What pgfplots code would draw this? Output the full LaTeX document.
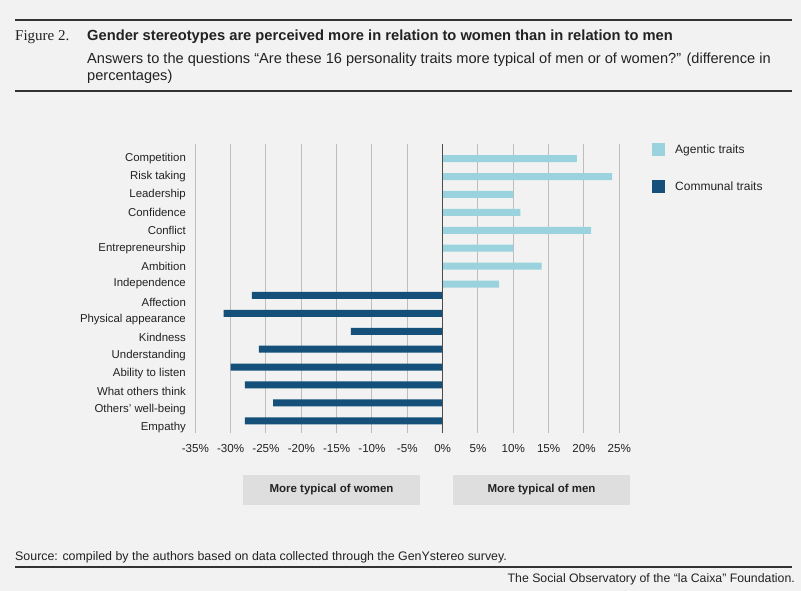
\documentclass[border=0pt]{standalone}
\usepackage{pgfplots}
\pgfplotsset{compat=1.18}
\usepackage{fontspec}
\setmainfont{Liberation Sans}
\newfontfamily\serifc{Liberation Serif}
\definecolor{bg}{HTML}{F2F2F2}
\definecolor{agentic}{HTML}{9AD3DE}
\definecolor{communal}{HTML}{14507A}
\definecolor{boxgray}{HTML}{DEDEDE}
\definecolor{txt}{HTML}{222222}
\definecolor{rule}{HTML}{333333}
\definecolor{gridc}{HTML}{BDBDBD}
\begin{document}
\begin{tikzpicture}[x=1bp,y=1bp]
\fill[bg] (0,0) rectangle (801,591);
% header
\draw[rule,line width=2bp] (15,571) -- (792,571);
\draw[rule,line width=2bp] (15,500) -- (792,500);
\node[anchor=base west,inner sep=0pt,text=txt,font=\serifc\fontsize{15bp}{16bp}\selectfont] at (15,550) {Figure 2.};
\node[anchor=base west,inner sep=0pt,text=txt,font=\bfseries\fontsize{14.7bp}{16bp}\selectfont] at (87,550) {Gender stereotypes are perceived more in relation to women than in relation to men};
\node[anchor=base west,inner sep=0pt,text=txt,font=\fontsize{14.6bp}{16bp}\selectfont] at (87,527) {Answers to the questions “Are these 16 personality traits more typical of men or of women?” (difference in};
\node[anchor=base west,inner sep=0pt,text=txt,font=\fontsize{14.6bp}{16bp}\selectfont] at (87,510) {percentages)};
% footer
\node[anchor=base west,inner sep=0pt,text=txt,font=\fontsize{12.4bp}{14bp}\selectfont] at (15,30) {Source: compiled by the authors based on data collected through the GenYstereo survey.};
\draw[rule,line width=2bp] (15,24) -- (792,24);
\node[anchor=base east,inner sep=0pt,text=txt,font=\fontsize{12.3bp}{14bp}\selectfont] at (795,8) {The Social Observatory of the “la Caixa” Foundation.};
% boxes
\fill[boxgray] (243,86) rectangle (420,116);
\fill[boxgray] (453,86) rectangle (630,116);
\node[text=txt,font=\bfseries\fontsize{11.5bp}{14bp}\selectfont] at (331.5,101) {More typical of women};
\node[text=txt,font=\bfseries\fontsize{11.5bp}{14bp}\selectfont] at (541.5,101) {More typical of men};
\begin{axis}[
  at={(195.3bp,158bp)}, anchor=south west,
  scale only axis, width=424bp, height=289bp,
  xmin=-35, xmax=25, ymin=0.682, ymax=16.82,
  xbar, bar width=7bp,
  axis line style={draw=none},
  tick style={draw=none},
  xmajorgrids, grid style={gridc, line width=1bp},
  xtick={-35,-30,...,25},
  xticklabels={-35\%,-30\%,-25\%,-20\%,-15\%,-10\%,-5\%,0\%,5\%,10\%,15\%,20\%,25\%},
  xticklabel style={anchor=base, inner sep=0pt, yshift=-20bp, font=\fontsize{11.6bp}{14bp}\selectfont, text=txt},
  ytick={1,...,16},
  yticklabels={Empathy,Others' well-being,What others think,Ability to listen,Understanding,Kindness,Physical appearance,Affection,Independence,Ambition,Entrepreneurship,Conflict,Confidence,Leadership,Risk taking,Competition},
  yticklabel style={anchor=east, inner sep=0pt, xshift=-5bp, font=\fontsize{11.4bp}{13bp}\selectfont, text=txt},
  legend image code/.code={\draw[#1,draw=none] (0bp,-6.5bp) rectangle (13bp,6.5bp);},
  legend style={at={(rel axis cs:1.0771,1.0035)}, anchor=north west, draw=none, fill=none, inner sep=0pt,
    column sep=10bp, row sep=24bp, nodes={inner sep=0pt, text=txt, font=\fontsize{12bp}{13bp}\selectfont}},
  legend cell align=left,
  clip=false,
]
\addplot[fill=agentic, draw=none, bar shift=0pt] coordinates {
(19,16) (24,15) (10,14) (11,13) (21,12) (10,11) (14,10) (8,9)};
\addlegendentry{Agentic traits}
\addplot[fill=communal, draw=none, bar shift=6.5bp] coordinates {
(-27,8) (-31,7) (-13,6) (-26,5) (-30,4) (-28,3) (-24,2) (-28,1)};
\addlegendentry{Communal traits}
\draw[black!70, line width=1bp] (axis cs:0,0.682) -- (axis cs:0,16.82);
\end{axis}
\end{tikzpicture}
\end{document}
